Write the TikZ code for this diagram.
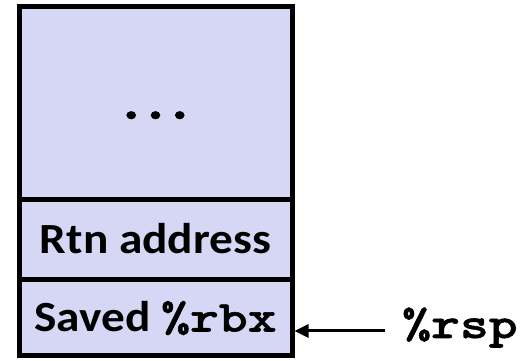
\documentclass[tikz,border=0pt]{standalone}
\usepackage{fontspec}
\setmainfont{Carlito}[FakeStretch=1.1]
\newfontfamily\courfont{lmmonolt10-bold.otf}[FakeStretch=1.25,FakeBold=1.2]
\newfontfamily\dotfont{lmmonolt10-bold.otf}[FakeStretch=1.25,FakeBold=8]
\usetikzlibrary{arrows.meta}
\definecolor{cellfill}{RGB}{214,214,245}
\tikzset{
  cell/.style={draw=black, line width=5pt, fill=cellfill, minimum width=273pt,
    inner sep=0pt, text height=28pt, text depth=0pt, anchor=south west,
    font=\fontsize{43}{47}\selectfont\bfseries},
  ptr/.style={line width=3pt, -{Triangle[length=14pt,width=13pt]}},
  regname/.style={inner sep=0pt, anchor=base west, font=\fontsize{44}{50}\selectfont\courfont}
}
\begin{document}
\begin{tikzpicture}[x=1pt,y=1pt]
\useasboundingbox (0,0) rectangle (520,361);
\node[cell, minimum height=192.5pt, text height=29pt] (top) at (16.5,159) {{\dotfont\fontsize{37}{40}\selectfont ...}};
\node[cell, minimum height=80pt] (mid) at (16.5,79) {Rtn address};
\node[cell, minimum height=76pt] (bot) at (16.5,3) {Saved {\courfont\fontsize{44}{50}\selectfont\%rbx}};
\node[regname] (rsp) at (402,23) {\%rsp};
\coordinate (tail) at (385,30);
\draw[ptr] (tail) -- (tail -| bot.east);
\end{tikzpicture}
\end{document}
